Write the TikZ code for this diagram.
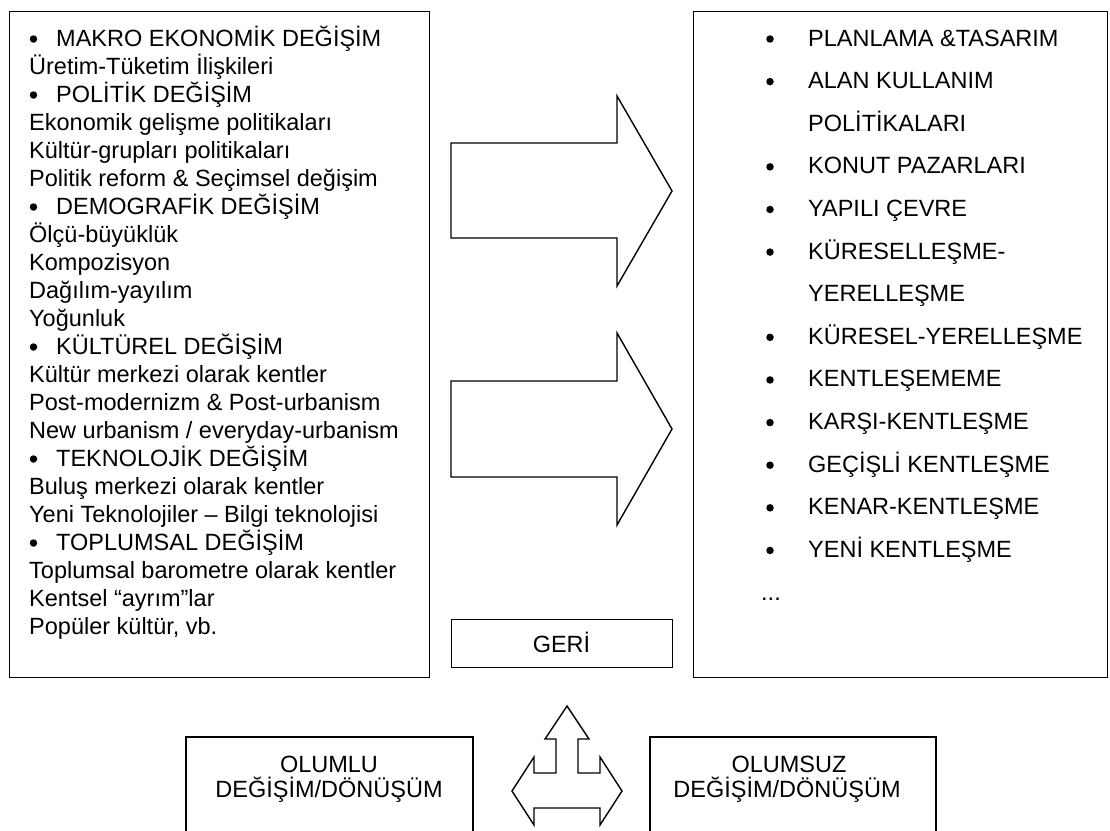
\documentclass[tikz,border=0pt]{standalone}
\usepackage{fontspec}
\setmainfont{Liberation Sans}
\begin{document}
\begin{tikzpicture}[x=1pt,y=-1pt,
  frame/.style={draw=black, line width=1.4pt, inner sep=0pt, anchor=north west},
  txt/.style={anchor=base west, inner sep=0pt, font=\fontsize{23.5}{28}\selectfont},
  ctxt/.style={anchor=base, inner sep=0pt, font=\fontsize{23.5}{28}\selectfont},
  dot/.style={circle, fill=black, inner sep=0pt, minimum size=7.5pt},
  blockarrow/.style={draw=black, line width=1.4pt, line join=miter, fill=white}]
\useasboundingbox (0,0) rectangle (1110,830);

% main boxes
\node[frame, minimum width=420pt, minimum height=666pt] (leftbox) at (9,11) {};
\node[frame, minimum width=414pt, minimum height=666pt] (rightbox) at (693,11) {};
\node[frame, minimum width=221pt, minimum height=48pt] (geribox) at (451,619) {};
\node[ctxt] (geri) at (561.5,652) {GERİ};

% left list
\foreach \i/\b/\t in {
 0/1/MAKRO EKONOMİK DEĞİŞİM,
 1/0/Üretim-Tüketim İlişkileri,
 2/1/POLİTİK DEĞİŞİM,
 3/0/Ekonomik gelişme politikaları,
 4/0/Kültür-grupları politikaları,
 5/0/Politik reform \& Seçimsel değişim,
 6/1/DEMOGRAFİK DEĞİŞİM,
 7/0/Ölçü-büyüklük,
 8/0/Kompozisyon,
 9/0/Dağılım-yayılım,
 10/0/Yoğunluk,
 11/1/KÜLTÜREL DEĞİŞİM,
 12/0/Kültür merkezi olarak kentler,
 13/0/Post-modernizm \& Post-urbanism,
 14/0/{New urbanism / everyday-urbanism},
 15/1/TEKNOLOJİK DEĞİŞİM,
 16/0/Buluş merkezi olarak kentler,
 17/0/Yeni Teknolojiler – Bilgi teknolojisi,
 18/1/TOPLUMSAL DEĞİŞİM,
 19/0/Toplumsal barometre olarak kentler,
 20/0/Kentsel “ayrım”lar,
 21/0/Popüler kültür{,} vb.}
{
  \ifnum\b=1
    \node[dot] (lb\i) at (33.5,39+28*\i) {};
    \node[txt] (lt\i) at (56,46+28*\i) {\t};
  \else
    \node[txt] (lt\i) at (29,46+28*\i) {\t};
  \fi
}

% right list
\foreach \i/\b/\t in {
 0/1/PLANLAMA \&TASARIM,
 1/1/ALAN KULLANIM,
 2/0/POLİTİKALARI,
 3/1/KONUT PAZARLARI,
 4/1/YAPILI ÇEVRE,
 5/1/KÜRESELLEŞME-,
 6/0/YERELLEŞME,
 7/1/KÜRESEL-YERELLEŞME,
 8/1/KENTLEŞEMEME,
 9/1/KARŞI-KENTLEŞME,
 10/1/GEÇİŞLİ KENTLEŞME,
 11/1/KENAR-KENTLEŞME,
 12/1/YENİ KENTLEŞME}
{
  \ifnum\b=1
    \node[dot] (rb\i) at (770,39+42.62*\i) {};
  \fi
  \node[txt] (rt\i) at (808,46+42.62*\i) {\t};
}
\node[txt] (rdots) at (761,600) {...};

% big arrows
\draw[blockarrow] (451,143) -- (617,143) -- (617,96) -- (672,191) -- (617,286) -- (617,238) -- (451,238) -- cycle;
\draw[blockarrow] (451,381) -- (617,381) -- (617,333) -- (672,429) -- (617,525) -- (617,477) -- (451,477) -- cycle;

% three-way arrow
\draw[blockarrow] (567,706) -- (589,739) -- (578,739) -- (578,773) -- (600,773) -- (600,757)
  -- (622,791) -- (600,825) -- (600,808) -- (534,808) -- (534,825) -- (512,791)
  -- (534,757) -- (534,773) -- (556,773) -- (556,739) -- (545,739) -- cycle;

% bottom boxes (cut at the lower edge)
\draw[line width=1.4pt] (186,832) -- (186,737) -- (473,737) -- (473,832);
\draw[line width=1.4pt] (650,832) -- (650,737) -- (936,737) -- (936,832);
\node[ctxt] (olumlu1) at (329,772) {OLUMLU};
\node[ctxt] (olumlu2) at (329,797) {DEĞİŞİM/DÖNÜŞÜM};
\node[ctxt] (olumsuz1) at (789,772) {OLUMSUZ};
\node[ctxt] (olumsuz2) at (787,797) {DEĞİŞİM/DÖNÜŞÜM};
\end{tikzpicture}
\end{document}
